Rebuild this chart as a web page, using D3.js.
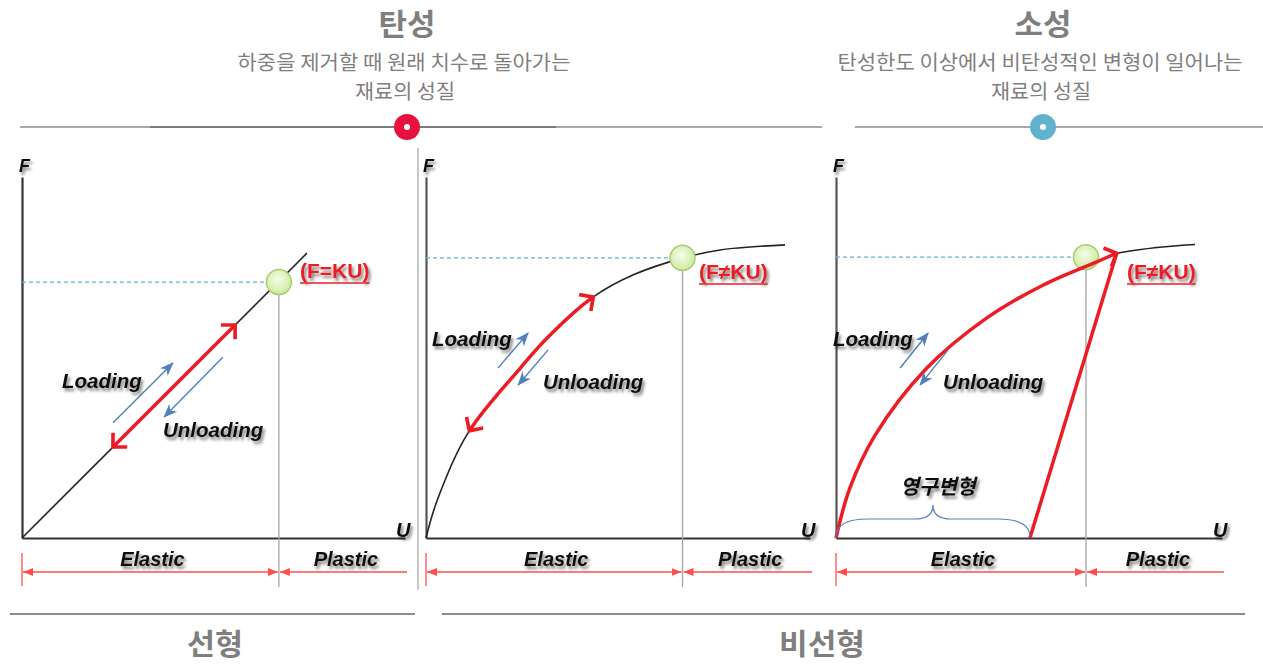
<!DOCTYPE html>
<html><head><meta charset="utf-8">
<script src="https://cdn.jsdelivr.net/npm/d3@7"></script>
<style>html,body{margin:0;padding:0;background:#fff;}svg{display:block}</style>
</head><body><svg id="c" width="1263" height="665"></svg>
<script>
// ---------------- data ----------------
const topTitles = ["탄성", "소성"];
const topDescLine1 = ["하중을 제거할 때 원래 치수로 돌아가는", "탄성한도 이상에서 비탄성적인 변형이 일어나는"];
const topDescLine2 = ["재료의 성질", "재료의 성질"];
const bottomTitles = ["선형", "비선형"];
const axisLabels = ["F", "U"];
const regionLabels = ["Elastic", "Plastic"];
const flowLabels = ["Loading", "Unloading"];
const lawLabels = ["(F=KU)", "(F≠KU)", "(F≠KU)"];
const permanentLabel = "영구변형";

// curves, in axis units (U: 0-100, F: 0-100)
const linearU = [0, 74.2];
const linearF = [0, 78.9];
const linearCycleU = [23.7, 55.5];
const linearCycleF = [25.2, 59.0];
const nonlinearU = [0, 2.8, 10.6, 24.5, 32.3, 43.6, 54.0, 67.0, 76.6, 93.5];
const nonlinearF = [0, 10.1, 28.5, 47.0, 56.2, 66.8, 72.9, 77.6, 79.8, 81.2];
const nonlinearCycleU = [11.2, 43.6]; // extent of the red loading/unloading arc
const plasticLoadU = [0, 3.6, 10.2, 23.6, 39.2, 54.0, 67.9, 73.1];
const plasticLoadF = [0, 13.8, 28.5, 47.0, 60.9, 70.1, 76.5, 78.9];
const plasticHardenU = [73.1, 83.0, 93.5];
const plasticHardenF = [78.9, 80.4, 81.3];
const unloadU = [50.5, 73.1];
const unloadF = [0, 78.9];
const yieldU = [66.9, 66.8, 65.1];
const yieldF = [70.9, 77.6, 77.8];
// blue direction arrows [start, end] per panel
const loadArrowU = [[23.7, 39.3], [18.75, 26.6], [16.7, 24.0]];
const loadArrowF = [[31.9, 48.5], [47.1, 56.8], [47.1, 56.8]];
const unloadArrowU = [[52.3, 37.0], [31.8, 24.0], [29.2, 21.9]];
const unloadArrowF = [[50.1, 33.5], [52.1, 42.4], [52.1, 42.4]];

// ---------------- drawing ----------------
const svg = d3.select("#c");
const defs = svg.append("defs");
const KR = "'Noto Sans CJK KR','Noto Sans',sans-serif";
const LAT = "'Liberation Sans',Arial,sans-serif";
const RED = "#ec1c24", BLUE = "#4f81bd", LRED = "#ff4d4d";

const sh = defs.append("filter").attr("id", "sh").attr("x", "-20%").attr("y", "-40%").attr("width", "150%").attr("height", "200%");
sh.append("feGaussianBlur").attr("in", "SourceAlpha").attr("stdDeviation", 1.6).attr("result", "b");
sh.append("feOffset").attr("in", "b").attr("dx", 2).attr("dy", 2.5).attr("result", "o");
sh.append("feComponentTransfer").attr("in", "o").attr("result", "o2")
  .append("feFuncA").attr("type", "linear").attr("slope", 0.5);
const mg = sh.append("feMerge");
mg.append("feMergeNode").attr("in", "o2");
mg.append("feMergeNode").attr("in", "SourceGraphic");

const rg = defs.append("radialGradient").attr("id", "gc").attr("cx", "45%").attr("cy", "40%").attr("r", "60%");
rg.append("stop").attr("offset", "0%").attr("stop-color", "#f6fdea");
rg.append("stop").attr("offset", "100%").attr("stop-color", "#cdea9e");

defs.append("marker").attr("id", "chev").attr("viewBox", "0 0 24 24").attr("refX", 18).attr("refY", 12)
  .attr("markerWidth", 22).attr("markerHeight", 22).attr("markerUnits", "userSpaceOnUse")
  .attr("orient", "auto-start-reverse")
  .append("path").attr("d", "M7,1 L18,12 L7,23").attr("fill", "none").attr("stroke", RED)
  .attr("stroke-width", 4).attr("stroke-linejoin", "miter");
defs.append("marker").attr("id", "stealth").attr("viewBox", "0 0 14 11").attr("refX", 13).attr("refY", 5.5)
  .attr("markerWidth", 14).attr("markerHeight", 11).attr("markerUnits", "userSpaceOnUse").attr("orient", "auto")
  .append("path").attr("d", "M0,0 L14,5.5 L0,11 L4,5.5 Z").attr("fill", BLUE);
defs.append("marker").attr("id", "tri").attr("viewBox", "0 0 10 8").attr("refX", 10).attr("refY", 4)
  .attr("markerWidth", 10).attr("markerHeight", 8).attr("markerUnits", "userSpaceOnUse").attr("orient", "auto-start-reverse")
  .append("path").attr("d", "M0,0 L10,4 L0,8 Z").attr("fill", LRED);

// ---- header ----
const headerX = [407, 1043];
[0, 1].forEach(i => {
  svg.append("text").attr("x", headerX[i]).attr("y", 35).attr("text-anchor", "middle")
    .attr("font-family", KR).attr("font-weight", 700).attr("font-size", 30).attr("fill", "#7f7f7f")
    .attr("textLength", 57).attr("lengthAdjust", "spacingAndGlyphs")
    .text(topTitles[i]);
  svg.append("text").attr("x", headerX[i] - 3).attr("y", 70).attr("text-anchor", "middle")
    .attr("font-family", KR).attr("font-size", 20).attr("fill", "#7f7f7f")
    .attr("textLength", i === 0 ? 333 : 405).attr("lengthAdjust", "spacingAndGlyphs")
    .text(topDescLine1[i]);
  svg.append("text").attr("x", headerX[i] - 2).attr("y", 99).attr("text-anchor", "middle")
    .attr("font-family", KR).attr("font-size", 20).attr("fill", "#7f7f7f")
    .attr("textLength", 100).attr("lengthAdjust", "spacingAndGlyphs")
    .text(topDescLine2[i]);
});
svg.append("line").attr("x1", 20).attr("x2", 822).attr("y1", 127).attr("y2", 127).attr("stroke", "#8c8c8c").attr("stroke-width", 1.5);
svg.append("line").attr("x1", 150).attr("x2", 556).attr("y1", 127).attr("y2", 127).attr("stroke", "#6e6e6e").attr("stroke-width", 1.5);
svg.append("line").attr("x1", 855).attr("x2", 1263).attr("y1", 127).attr("y2", 127).attr("stroke", "#8c8c8c").attr("stroke-width", 1.5);
svg.append("circle").attr("cx", 407).attr("cy", 127).attr("r", 13).attr("fill", "#e8103c");
svg.append("circle").attr("cx", 407).attr("cy", 127).attr("r", 3).attr("fill", "#fff");
svg.append("circle").attr("cx", 1043).attr("cy", 127).attr("r", 13).attr("fill", "#5fb3cf");
svg.append("circle").attr("cx", 1043).attr("cy", 127).attr("r", 3).attr("fill", "#fff");

// ---- footer ----
svg.append("line").attr("x1", 10).attr("x2", 415).attr("y1", 614).attr("y2", 614).attr("stroke", "#8c8c8c").attr("stroke-width", 2);
svg.append("line").attr("x1", 442).attr("x2", 1245).attr("y1", 614).attr("y2", 614).attr("stroke", "#8c8c8c").attr("stroke-width", 2);
[[215, 0], [822, 1]].forEach(([cx, i]) => {
  svg.append("text").attr("x", cx).attr("y", 655).attr("text-anchor", "middle")
    .attr("font-family", KR).attr("font-weight", 700).attr("font-size", 29).attr("fill", "#7f7f7f")
    .attr("textLength", i === 0 ? 56 : 86).attr("lengthAdjust", "spacingAndGlyphs")
    .text(bottomTitles[i]);
});
svg.append("line").attr("x1", 418).attr("x2", 418).attr("y1", 148).attr("y2", 590).attr("stroke", "#b5b5b5").attr("stroke-width", 1.5);

// ---- panels ----
const panels = [
  {x0: 22, xEnd: 405},
  {x0: 426, xEnd: 810},
  {x0: 836, xEnd: 1222}
];
const Y0 = 538, YTOP = 177;

function lbl(g, x, y, t, size, anchor) {
  return g.append("text").attr("x", x).attr("y", y).attr("text-anchor", anchor || "start")
    .attr("font-family", LAT).attr("font-weight", 700).attr("font-style", "italic")
    .attr("font-size", size).attr("fill", "#111").attr("filter", "url(#sh)").text(t);
}
// sample a drawn path between two x positions
function subPath(node, xa, xb) {
  const L = node.getTotalLength(), pts = [];
  for (let s = 0; s <= L; s += 1) {
    const p = node.getPointAtLength(s);
    if (p.x >= xa && p.x <= xb) pts.push([p.x, p.y]);
  }
  return pts;
}

panels.forEach((p, i) => {
  const g = svg.append("g");
  const x = d3.scaleLinear().domain([0, 100]).range([p.x0, p.x0 + 384]);
  const y = d3.scaleLinear().domain([0, 100]).range([Y0, YTOP]);
  const line = d3.line().x(d => x(d[0])).y(d => y(d[1]));
  const smooth = d3.line().x(d => x(d[0])).y(d => y(d[1])).curve(d3.curveCatmullRom.alpha(0.5));

  // axes
  g.append("g").attr("transform", `translate(0,${Y0})`)
    .call(d3.axisBottom(d3.scaleLinear().domain([0, 1]).range([p.x0, p.xEnd])).tickValues([]).tickSizeOuter(0))
    .select(".domain").attr("stroke", "#333").attr("stroke-width", 2.2);
  g.append("g").attr("transform", `translate(${p.x0},0)`)
    .call(d3.axisLeft(y).tickValues([]).tickSizeOuter(0))
    .select(".domain").attr("stroke", i === 0 ? "#333" : "#555").attr("stroke-width", 2.2);
  lbl(g, p.x0 - 3, 172, axisLabels[0], 18);
  lbl(g, p.xEnd - 9, 537, axisLabels[1], 20);

  // yield guides
  const yu = yieldU[i], yf = yieldF[i];
  g.append("line").attr("x1", x(0)).attr("x2", x(yu)).attr("y1", y(yf)).attr("y2", y(yf))
    .attr("stroke", "#5db5d3").attr("stroke-width", 1.2).attr("stroke-dasharray", "4,3");
  g.append("line").attr("x1", x(yu)).attr("x2", x(yu)).attr("y1", y(yf)).attr("y2", 587)
    .attr("stroke", "#a6a6a6").attr("stroke-width", 1.3);

  // curves
  if (i === 0) {
    g.append("path").attr("d", line(d3.zip(linearU, linearF))).attr("fill", "none").attr("stroke", "#222").attr("stroke-width", 1.6);
    g.append("path").attr("d", line(d3.zip(linearCycleU, linearCycleF))).attr("fill", "none")
      .attr("stroke", RED).attr("stroke-width", 3.5).attr("marker-start", "url(#chev)").attr("marker-end", "url(#chev)");
  } else if (i === 1) {
    const base = g.append("path").attr("d", smooth(d3.zip(nonlinearU, nonlinearF))).attr("fill", "none")
      .attr("stroke", "#222").attr("stroke-width", 1.6);
    const seg = subPath(base.node(), x(nonlinearCycleU[0]), x(nonlinearCycleU[1]));
    g.append("path").attr("d", d3.line()(seg)).attr("fill", "none")
      .attr("stroke", RED).attr("stroke-width", 3.5).attr("marker-start", "url(#chev)").attr("marker-end", "url(#chev)");
  } else {
    g.append("path").attr("d", smooth(d3.zip(plasticHardenU, plasticHardenF))).attr("fill", "none").attr("stroke", "#222").attr("stroke-width", 1.6);
  }

  // yield point
  g.append("circle").attr("cx", x(yu)).attr("cy", y(yf)).attr("r", 12.5)
    .attr("fill", "url(#gc)").attr("stroke", "#a9cc6e").attr("stroke-width", 1.5);

  if (i === 2) {
    g.append("path").attr("d", line(d3.zip(unloadU, unloadF))).attr("fill", "none").attr("stroke", RED).attr("stroke-width", 3.5);
    g.append("path").attr("d", smooth(d3.zip(plasticLoadU, plasticLoadF))).attr("fill", "none")
      .attr("stroke", RED).attr("stroke-width", 3.5).attr("marker-end", "url(#chev)");
    // brace for permanent deformation
    const bx0 = x(0), bx1 = x(unloadU[0]), bm = (bx0 + bx1) / 2;
    g.append("path").attr("d",
      `M${bx0},${Y0 - 1} Q${bx0},${Y0 - 19} ${bx0 + 32},${Y0 - 19} L${bm - 18},${Y0 - 19} Q${bm},${Y0 - 19} ${bm},${Y0 - 33}` +
      ` Q${bm},${Y0 - 19} ${bm + 18},${Y0 - 19} L${bx1 - 32},${Y0 - 19} Q${bx1},${Y0 - 19} ${bx1},${Y0 - 1}`)
      .attr("fill", "none").attr("stroke", BLUE).attr("stroke-width", 1.2);
    g.append("text").attr("x", bm + 5).attr("y", 494).attr("text-anchor", "middle")
      .attr("font-family", KR).attr("font-weight", 700).attr("font-style", "italic").attr("font-size", 20.5)
      .attr("fill", "#111").attr("filter", "url(#sh)").text(permanentLabel);
  }

  // blue loading/unloading arrows
  g.append("path").attr("d", line([[loadArrowU[i][0], loadArrowF[i][0]], [loadArrowU[i][1], loadArrowF[i][1]]]))
    .attr("stroke", BLUE).attr("stroke-width", 1.4).attr("fill", "none").attr("marker-end", "url(#stealth)");
  g.append("path").attr("d", line([[unloadArrowU[i][0], unloadArrowF[i][0]], [unloadArrowU[i][1], unloadArrowF[i][1]]]))
    .attr("stroke", BLUE).attr("stroke-width", 1.4).attr("fill", "none").attr("marker-end", "url(#stealth)");

  // labels
  const loadPos = [[62, 388], [432, 346], [833, 346]][i];
  const unloadPos = [[163, 437], [543, 389], [943, 389]][i];
  lbl(g, loadPos[0], loadPos[1], flowLabels[0], 20.5);
  lbl(g, unloadPos[0], unloadPos[1], flowLabels[1], 20.5);

  const lawPos = [[300, 278], [699, 279], [1127, 279]][i];
  const lt = g.append("text").attr("x", lawPos[0]).attr("y", lawPos[1])
    .attr("font-family", LAT).attr("font-weight", 700).attr("font-size", 21).attr("fill", RED)
    .attr("filter", "url(#sh)").text(lawLabels[i]);
  const w = lt.node().getComputedTextLength();
  g.append("line").attr("x1", lawPos[0]).attr("x2", lawPos[0] + w).attr("y1", lawPos[1] + 5).attr("y2", lawPos[1] + 5)
    .attr("stroke", RED).attr("stroke-width", 1.6);

  // elastic / plastic ranges
  const ay = 572;
  g.append("line").attr("x1", x(0)).attr("x2", x(0)).attr("y1", 553).attr("y2", 586).attr("stroke", LRED).attr("stroke-width", 1.3);
  g.append("line").attr("x1", x(0) + 1).attr("x2", x(yu) - 1).attr("y1", ay).attr("y2", ay)
    .attr("stroke", LRED).attr("stroke-width", 1.5).attr("marker-start", "url(#tri)").attr("marker-end", "url(#tri)");
  g.append("line").attr("x1", x(yu) + 1).attr("x2", p.xEnd + 2).attr("y1", ay).attr("y2", ay)
    .attr("stroke", LRED).attr("stroke-width", 1.5).attr("marker-start", "url(#tri)");
  lbl(g, (x(0) + x(yu)) / 2 + 2, 566, regionLabels[0], 20, "middle");
  lbl(g, (x(yu) + p.xEnd) / 2 + 4, 566, regionLabels[1], 20, "middle");
});
</script></body></html>
